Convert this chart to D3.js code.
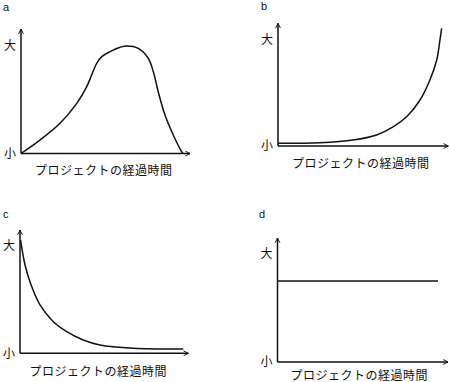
<!DOCTYPE html>
<html><head><meta charset="utf-8">
<script src="https://cdn.jsdelivr.net/npm/d3@7"></script>
<style>body{margin:0;background:#fff}svg{display:block}</style>
</head><body>
<svg id="c" width="449" height="382"></svg>
<script>
// ---- data ----
const panelLabels = ["a","b","c","d"];
const xTitle = "プロジェクトの経過時間";
const yTickValues = [0, 87];
const yTickLabels = ["小", "大"];
const aX = [0, 11.2, 23.1, 33, 38.9, 41.8, 44.8, 47.8, 52.7, 58.6, 62.5, 69.4, 75.3, 78.3, 81.2, 85.2, 90.1, 95.1, 95.9];
const aY = [0, 10.8, 24.3, 40.3, 53.7, 63.1, 72.4, 77.8, 81.8, 85.3, 86.4, 84.5, 76.5, 65.7, 49.6, 30.9, 14.9, 1.4, 0];
const bX = [0, 24.5, 44.1, 57.9, 67.6, 75.5, 83.4, 89.2, 93.2, 95.1, 96.1];
const bY = [2.2, 2.7, 4.9, 9, 15.6, 23.8, 37.5, 53.8, 70.1, 86.4, 95.9];
const cX = [0.3, 3, 5.9, 11.9, 19.8, 27.7, 37.6, 47.5, 67.3, 97];
const cY = [92, 71.6, 58.1, 39.2, 25.6, 17.5, 10.8, 6.7, 4.1, 3.5];
const dX = [0, 94.1];
const dY = [65.3, 65.3];

// ---- layout ----
const panels = [
  {xs:aX, ys:aY, ox:21,  oy:153.5, w:169,   h:124.5, lx:3,   ly:7,   tx:103.5, ty:169},
  {xs:bX, ys:bY, ox:278, oy:146,   w:170.3, h:122.7, lx:261, ly:6,   tx:360.5, ty:162},
  {xs:cX, ys:cY, ox:20,  oy:353.3, w:168.3, h:123.3, lx:3,   ly:214, tx:98,    ty:370},
  {xs:dX, ys:dY, ox:277.5, oy:362, w:170.5, h:124,   lx:259, ly:214, tx:359,   ty:374.5}
];
const svg = d3.select("#c");
const font = "'Noto Sans CJK JP', 'Noto Sans', sans-serif";

svg.append("defs").append("marker")
  .attr("id","arr").attr("viewBox","0 0 10 10").attr("refX",9).attr("refY",5)
  .attr("markerWidth",6).attr("markerHeight",6).attr("markerUnits","userSpaceOnUse")
  .attr("orient","auto")
  .append("path").attr("d","M1,1 L9,5 L1,9").attr("fill","none").attr("stroke","#111").attr("stroke-width",1.6);

panels.forEach((p, i) => {
  const x = d3.scaleLinear().domain([0,100]).range([p.ox, p.ox + p.w]);
  const y = d3.scaleLinear().domain([0,100]).range([p.oy, p.oy - p.h]);
  const g = svg.append("g");

  // axes lines with arrows
  g.append("line").attr("x1", x(0)).attr("y1", y(0)).attr("x2", x(0)).attr("y2", y(100))
    .attr("stroke","#111").attr("stroke-width",1.5).attr("marker-end","url(#arr)");
  g.append("line").attr("x1", x(0)).attr("y1", y(0)).attr("x2", x(100)).attr("y2", y(0))
    .attr("stroke","#111").attr("stroke-width",1.5).attr("marker-end","url(#arr)");

  // y tick labels via axis
  const ax = g.append("g").attr("transform", `translate(${x(0)},0)`)
    .call(d3.axisLeft(y).tickValues(yTickValues).tickSize(0).tickPadding(5)
      .tickFormat((d, k) => yTickLabels[k]));
  ax.select(".domain").remove();
  ax.selectAll("text").attr("font-family", font).attr("font-size", 12).attr("fill","#111");

  // curve
  const pts = p.xs.map((v, k) => [v, p.ys[k]]);
  g.append("path").datum(pts)
    .attr("d", d3.line().x(d => x(d[0])).y(d => y(d[1])).curve(d3.curveCatmullRom.alpha(0.5)))
    .attr("fill","none").attr("stroke","#111").attr("stroke-width",1.5);

  // x title
  g.append("text").attr("x", p.tx).attr("y", p.ty).attr("text-anchor","middle")
    .attr("dominant-baseline","central").attr("font-family", font).attr("font-size", 12)
    .attr("textLength", 137).attr("lengthAdjust","spacing")
    .attr("fill","#111").text(xTitle);

  // panel letter
  g.append("text").attr("x", p.lx).attr("y", p.ly).attr("dominant-baseline","central")
    .attr("font-family","'Liberation Sans', Arial, sans-serif").attr("font-size", 11)
    .attr("fill","#111").text(panelLabels[i]);
});
</script>
</body></html>
